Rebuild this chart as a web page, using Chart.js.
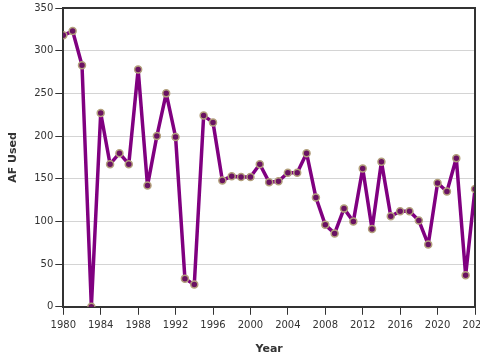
<!DOCTYPE html>
<html>
<head>
<meta charset="utf-8">
<script src="https://cdn.jsdelivr.net/npm/chart.js@4"></script>
<style>
    html, body { margin: 0; padding: 0; background: #fff; overflow: hidden; }
    #wrap { width: 480px; height: 360px; overflow: hidden; }
    #holder { width: 495px; height: 360px; position: relative; }
</style>
</head>
<body>
<div id="wrap"><div id="holder"><canvas id="grafico"></canvas></div></div>
<script>
// #region Dados

var _anos = [1980, 1981, 1982, 1983, 1984, 1985, 1986, 1987, 1988, 1989,
    1990, 1991, 1992, 1993, 1994, 1995, 1996, 1997, 1998, 1999,
    2000, 2001, 2002, 2003, 2004, 2005, 2006, 2007, 2008, 2009,
    2010, 2011, 2012, 2013, 2014, 2015, 2016, 2017, 2018, 2019,
    2020, 2021, 2022, 2023, 2024];

var _afUsado = [318, 323, 283, 0, 227, 167, 180, 167, 278, 142,
    200, 250, 199, 33, 26, 224, 216, 148, 153, 152,
    152, 167, 146, 147, 157, 157, 180, 128, 96, 86,
    115, 100, 162, 91, 170, 106, 112, 112, 101, 73,
    145, 135, 174, 37, 138];

var _tituloX = "Year";
var _tituloY = "AF Used";

// #endregion Dados

// #region Gráfico

var moldura = {
    id: 'moldura',
    afterDraw: function (chart) {
        const a = chart.chartArea;
        const ctx = chart.ctx;
        ctx.save();
        ctx.strokeStyle = '#333';
        ctx.lineWidth = 2;
        ctx.beginPath();
        ctx.moveTo(a.left, a.top);
        ctx.lineTo(a.right, a.top);
        ctx.lineTo(a.right, a.bottom);
        ctx.stroke();
        ctx.restore();
    }
};

function loadGrafico() {
    const pontos = _anos.map(function (ano, i) { return { x: ano, y: _afUsado[i] }; });

    new Chart(document.getElementById("grafico"), {
        type: 'line',
        data: {
            datasets: [{
                data: pontos,
                borderColor: '#800080',
                borderWidth: 3.5,
                borderJoinStyle: 'round',
                pointRadius: 3.5,
                pointBorderWidth: 1.5,
                pointBackgroundColor: '#6a1262',
                pointBorderColor: '#b3a07c',
                tension: 0
            }]
        },
        options: {
            responsive: true,
            maintainAspectRatio: false,
            animation: false,
            layout: { padding: { top: 5, right: 20, left: 7, bottom: 4 } },
            plugins: { legend: { display: false }, tooltip: { enabled: false } },
            scales: {
                x: {
                    type: 'linear',
                    min: 1980,
                    max: 2024,
                    border: { color: '#333', width: 2 },
                    grid: { drawOnChartArea: false, tickLength: 8, tickColor: '#333', tickWidth: 1 },
                    ticks: {
                        stepSize: 4,
                        color: '#333',
                        padding: 5,
                        maxRotation: 0,
                        font: { family: 'DejaVu Sans', size: 10 },
                        callback: function (v) { return String(v); }
                    },
                    title: {
                        display: true,
                        text: _tituloX,
                        color: '#333',
                        padding: { top: 6, bottom: 0 },
                        font: { family: 'DejaVu Sans', size: 11, weight: 'bold' }
                    }
                },
                y: {
                    min: 0,
                    max: 350,
                    border: { color: '#333', width: 2 },
                    grid: { color: '#d4d4d4', lineWidth: 1, tickLength: 8, tickColor: '#333' },
                    ticks: {
                        stepSize: 50,
                        color: '#333',
                        padding: 2,
                        font: { family: 'DejaVu Sans', size: 10 }
                    },
                    title: {
                        display: true,
                        text: _tituloY,
                        color: '#333',
                        padding: { top: 0, bottom: 12 },
                        font: { family: 'DejaVu Sans', size: 11, weight: 'bold' }
                    }
                }
            }
        },
        plugins: [moldura]
    });
}

loadGrafico();

// #endregion Gráfico
</script>
</body>
</html>
